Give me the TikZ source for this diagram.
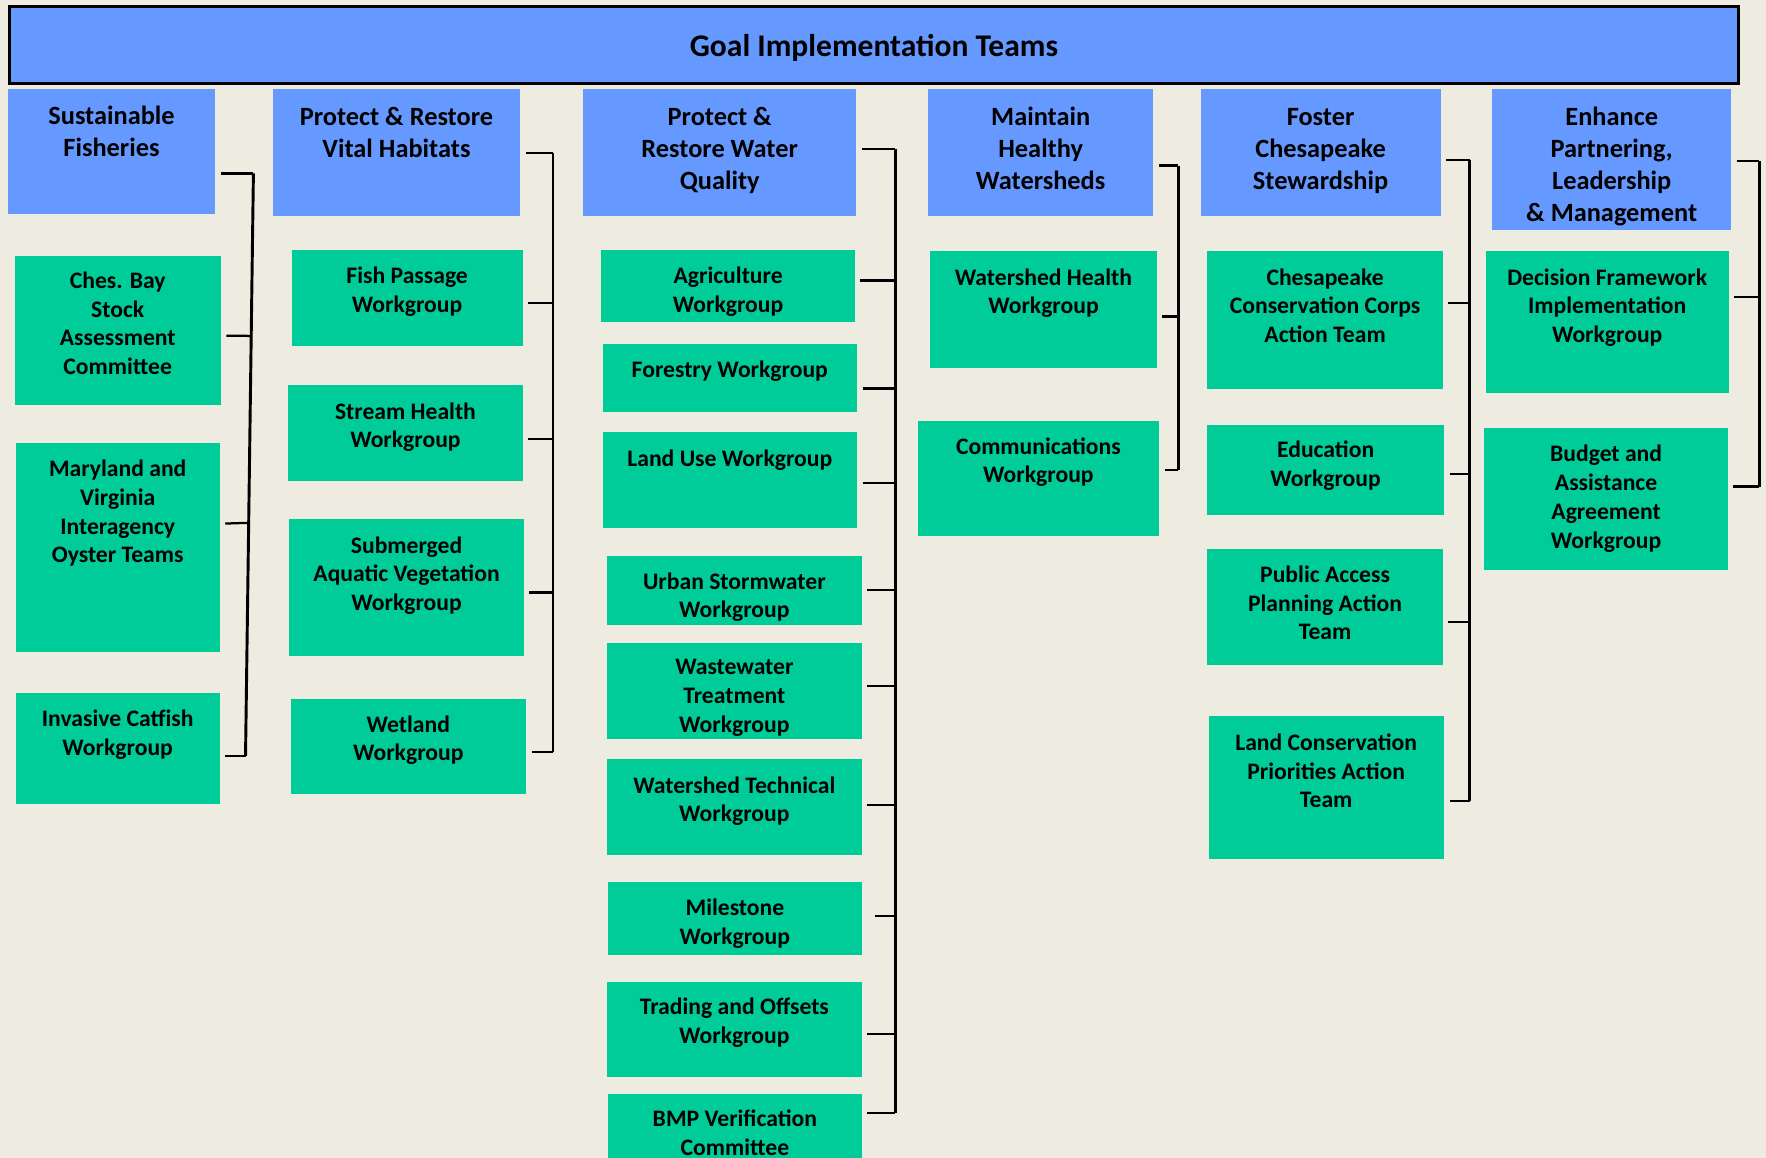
\documentclass[tikz,border=0pt]{standalone}
\usepackage{fontspec}
\setmainfont{Carlito}
\usetikzlibrary{calc}
\definecolor{bgc}{HTML}{EEEBE0}
\definecolor{hblue}{HTML}{6699FF}
\definecolor{tgreen}{HTML}{00CC99}
\tikzset{
  hdr/.style={fill=hblue, inner sep=0pt, outer sep=0pt},
  grn/.style={fill=tgreen, inner sep=0pt, outer sep=0pt},
  hdrtxt/.style={inner sep=0pt, align=center, font=\bfseries\fontsize{11.7}{14.25}\selectfont},
  grntxt/.style={inner sep=0pt, align=center, font=\bfseries\fontsize{10.5}{12.75}\selectfont},
  tk/.style={line width=1pt, shorten <=2.5pt},
  vb/.style={line width=1.3pt},
}
\def\offhdr{14.5}
\def\offgrn{13}
\newcommand\mkbox[8]{%
  \node[#1, minimum width={(#5-#3)*0.5pt}, minimum height={(#6-#4)*0.5pt}] (#2) at ({(#3+#5)/2},{(#4+#6)/2}) {};
  \node[#1txt, anchor=north] (#2t) at ({(#3+#5)/2},{#8-\csname off#1\endcsname}) {#7};
}
\begin{document}
\begin{tikzpicture}[x=0.5pt,y=-0.5pt]
\fill[bgc] (0,0) rectangle (1568,1028);
\useasboundingbox (0,0) rectangle (1568,1028);

% title
\node[fill=hblue, draw=black, line width=1.3pt, inner sep=0pt, text depth=0pt,
      minimum width={1535*0.5pt}, minimum height={68*0.5pt},
      font=\bfseries\fontsize{14}{17}\selectfont] (title) at (776,40) {Goal Implementation Teams};

% column 1
\mkbox{hdr}{h1}{7}{79}{191}{190}{Sustainable\\Fisheries}{108}
\mkbox{grn}{ches}{13}{227}{196}{360}{Ches. Bay\\Stock\\Assessment\\Committee}{254}
\mkbox{grn}{oyster}{14}{393}{195}{579}{Maryland and\\Virginia\\Interagency\\Oyster Teams}{421}
\mkbox{grn}{catfish}{14}{615}{195}{714}{Invasive Catfish\\Workgroup}{643}

% column 2
\mkbox{hdr}{h2}{242}{79}{462}{192}{Protect \& Restore\\Vital Habitats}{109}
\mkbox{grn}{fish}{259}{222}{464}{307}{Fish Passage\\Workgroup}{250}
\mkbox{grn}{stream}{256}{342}{464}{427}{Stream Health\\Workgroup}{370}
\mkbox{grn}{sav}{257}{461}{465}{582}{Submerged\\Aquatic Vegetation\\Workgroup}{489}
\mkbox{grn}{wetland}{258}{621}{467}{705}{Wetland\\Workgroup}{648}

% column 3
\mkbox{hdr}{h3}{518}{79}{760}{192}{Protect \&\\Restore Water\\Quality}{109}
\mkbox{grn}{agri}{534}{222}{759}{286}{Agriculture\\Workgroup}{250}
\mkbox{grn}{forest}{535}{305}{761}{366}{Forestry Workgroup}{333}
\mkbox{grn}{landuse}{535}{384}{761}{469}{Land Use Workgroup}{412}
\mkbox{grn}{urban}{539}{494}{765}{555}{Urban Stormwater\\Workgroup}{521}
\mkbox{grn}{waste}{539}{571}{765}{656}{Wastewater\\Treatment\\Workgroup}{598}
\mkbox{grn}{wtech}{539}{674}{765}{759}{Watershed Technical\\Workgroup}{702}
\mkbox{grn}{mile}{540}{783}{765}{848}{Milestone\\Workgroup}{811}
\mkbox{grn}{trade}{539}{872}{765}{956}{Trading and Offsets\\Workgroup}{899}
\mkbox{grn}{bmp}{540}{971}{765}{1032}{BMP Verification\\Committee}{998}

% column 4
\mkbox{hdr}{h4}{824}{79}{1024}{192}{Maintain\\Healthy\\Watersheds}{109}
\mkbox{grn}{whealth}{826}{223}{1027}{327}{Watershed Health\\Workgroup}{251}
\mkbox{grn}{comm}{815}{374}{1029}{476}{Communications\\Workgroup}{401}

% column 5
\mkbox{hdr}{h5}{1066}{79}{1279}{192}{Foster\\Chesapeake\\Stewardship}{110}
\mkbox{grn}{ccc}{1072}{223}{1281}{345}{Chesapeake\\Conservation Corps\\Action Team}{251}
\mkbox{grn}{edu}{1072}{377}{1282}{457}{Education\\Workgroup}{404}
\mkbox{grn}{pa}{1072}{487}{1281}{590}{Public Access\\Planning Action\\Team}{515}
\mkbox{grn}{lc}{1073}{636}{1282}{763}{Land Conservation\\Priorities Action\\Team}{664}

% column 6
\mkbox{hdr}{h6}{1325}{79}{1537}{204}{Enhance\\Partnering,\\Leadership\\\& Management}{109}
\mkbox{grn}{dfw}{1319}{223}{1535}{349}{Decision Framework\\Implementation\\Workgroup}{251}
\mkbox{grn}{budget}{1318}{380}{1534}{506}{Budget and\\Assistance\\Agreement\\Workgroup}{408}

% brackets
\coordinate (c1t) at (225,154); \coordinate (c1b) at (218,671);
\draw[vb] (c1t) -- (c1b);
\draw[tk] (h1.east |- c1t) -- (c1t);
\draw[tk] (ches.east |- 0,298) -- ($(c1t)!0.279!(c1b)$);
\draw[tk] (oyster.east |- 0,465) -- ($(c1t)!0.6!(c1b)$);
\draw[tk] (catfish.east |- c1b) -- (c1b);

\coordinate (c2t) at (491,136); \coordinate (c2b) at (491,668);
\draw[vb] (c2t) -- (c2b);
\draw[tk] (h2.east |- c2t) -- (c2t);
\draw[tk] (fish.east |- 0,269) -- (c2t |- 0,269);
\draw[tk] (stream.east |- 0,390) -- (c2t |- 0,390);
\draw[tk] (sav.east |- 0,526) -- (c2t |- 0,526);
\draw[tk] (wetland.east |- c2b) -- (c2b);

\coordinate (c3t) at (795,132); \coordinate (c3b) at (795,988);
\draw[vb] (c3t) -- (c3b);
\draw[tk] (h3.east |- c3t) -- (c3t);
\draw[tk] (agri.east |- 0,249) -- (c3t |- 0,249);
\draw[tk] (forest.east |- 0,345) -- (c3t |- 0,345);
\draw[tk] (landuse.east |- 0,429) -- (c3t |- 0,429);
\draw[tk] (urban.east |- 0,524) -- (c3t |- 0,524);
\draw[tk] (waste.east |- 0,609) -- (c3t |- 0,609);
\draw[tk] (wtech.east |- 0,715) -- (c3t |- 0,715);
\draw[tk, shorten <=6pt] (mile.east |- 0,813) -- (c3t |- 0,813);
\draw[tk] (trade.east |- 0,918) -- (c3t |- 0,918);
\draw[tk] (bmp.east |- c3b) -- (c3b);

\coordinate (c4t) at (1046,147); \coordinate (c4b) at (1046,417);
\draw[vb] (c4t) -- (c4b);
\draw[tk] (h4.east |- c4t) -- (c4t);
\draw[tk] (whealth.east |- 0,281) -- (c4t |- 0,281);
\draw[tk] (comm.east |- c4b) -- (c4b);

\coordinate (c5t) at (1305,142); \coordinate (c5b) at (1305,711);
\draw[vb] (c5t) -- (c5b);
\draw[tk] (h5.east |- c5t) -- (c5t);
\draw[tk] (ccc.east |- 0,269) -- (c5t |- 0,269);
\draw[tk] (edu.east |- 0,421) -- (c5t |- 0,421);
\draw[tk] (pa.east |- 0,552) -- (c5t |- 0,552);
\draw[tk] (lc.east |- c5b) -- (c5b);

\coordinate (c6t) at (1562,143); \coordinate (c6b) at (1562,432);
\draw[vb] (c6t) -- (c6b);
\draw[tk] (h6.east |- c6t) -- (c6t);
\draw[tk] (dfw.east |- 0,264) -- (c6t |- 0,264);
\draw[tk] (budget.east |- c6b) -- (c6b);
\end{tikzpicture}
\end{document}
